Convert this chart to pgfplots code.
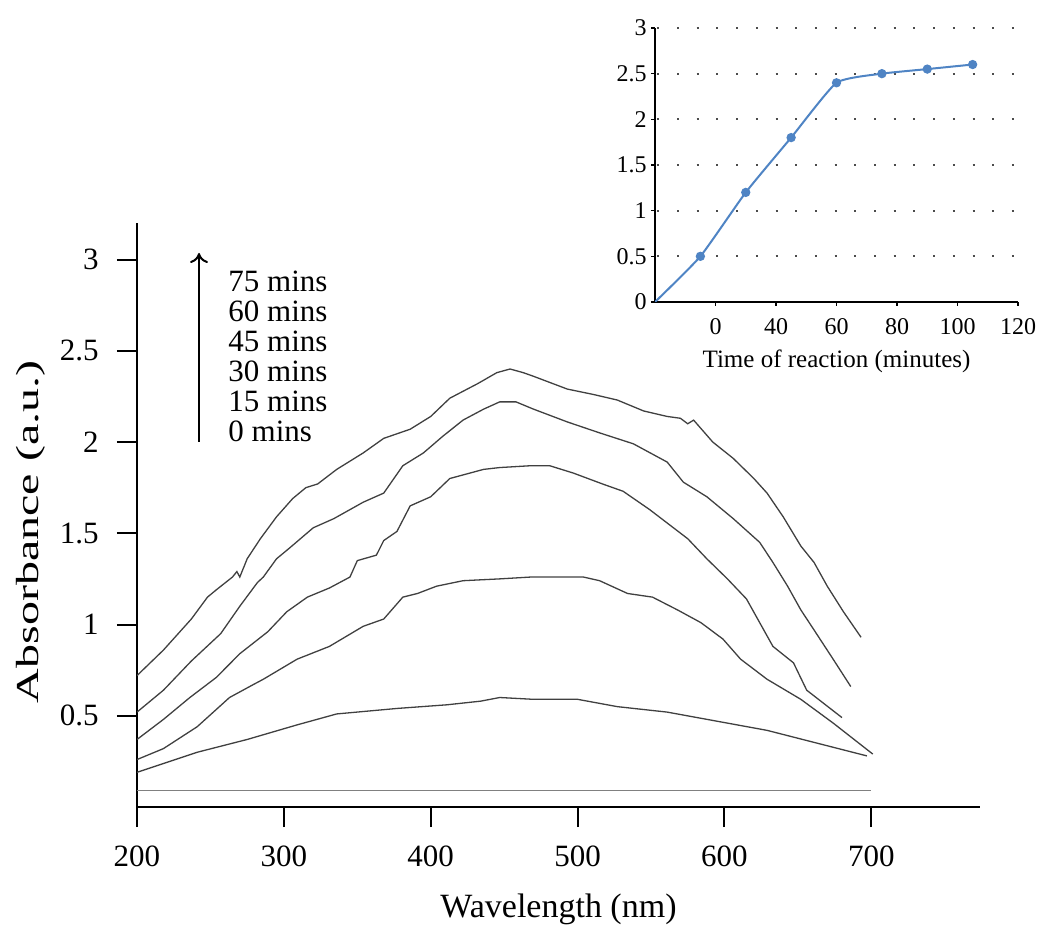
\documentclass[border=0pt]{standalone}
\usepackage{fontspec}
\setmainfont{Liberation Serif}
\usepackage{graphicx}
\usepackage{pgfplots}
\pgfplotsset{compat=1.18}
\usetikzlibrary{arrows.meta}
\definecolor{spec}{HTML}{404040}
\definecolor{kin}{HTML}{4F84C4}

\begin{document}
\begin{tikzpicture}[x=1pt,y=1pt]
\useasboundingbox (0,0) rectangle (521,463);
% main spectra
\begin{axis}[
  at={(68.5pt,59.5pt)}, anchor=south west,
  scale only axis, width=421.5pt, height=292pt,
  xmin=200, xmax=774, ymin=0, ymax=3.2,
  axis x line=bottom, axis y line=left,
  axis line style={-, line width=1pt},
  xtick={200,300,...,700}, ytick={0.5,1,...,3},
  tick align=outside, major tick length=10pt,
  tick style={line width=1pt, black},
  /pgf/number format/assume math mode=true,
  tick label style={font=\fontsize{15.5}{15.5}\selectfont, inner sep=0pt},
  xticklabel shift=9pt, yticklabel shift=9pt,
  xlabel={Wavelength (nm)},
  xlabel style={at={(axis description cs:0.5,0)}, anchor=base, yshift=-55pt,
    font=\fontsize{17}{17}\selectfont},
  ylabel={\scalebox{1.5}[1]{Absorbance (a.u.)}},
  ylabel style={at={(axis description cs:-0.1257,0.471)}, anchor=center,
    font=\fontsize{16}{16}\selectfont},
]
\addplot[gray, line width=0.5pt] coordinates {(200,0.093) (700,0.093)};
% 15 mins
\addplot[spec, line width=0.65pt] coordinates {
(200,0.19) (241,0.30) (275,0.37) (309,0.45) (336,0.51) (377,0.54) (411,0.56)
(434,0.58) (447,0.60) (470,0.59) (500,0.59) (527,0.55) (561,0.52) (595,0.47)
(629,0.42) (663,0.35) (697,0.28)};
% 30 mins
\addplot[spec, line width=0.65pt] coordinates {
(200,0.26) (218,0.32) (241,0.44) (263,0.60) (279,0.67) (286,0.70) (309,0.81)
(331,0.88) (354,0.99) (368,1.03) (381,1.15) (391,1.17) (404,1.21) (422,1.24)
(447,1.25) (468,1.26) (504,1.26) (515,1.24) (534,1.17) (551,1.15) (568,1.08)
(584,1.01) (599,0.92) (611,0.81) (629,0.70) (652,0.59) (674,0.46) (701,0.29)};
% 45 mins
\addplot[spec, line width=0.65pt] coordinates {
(200,0.37) (218,0.48) (236,0.60) (254,0.71) (270,0.84) (289,0.96) (302,1.07)
(316,1.15) (331,1.20) (345,1.26) (350,1.35) (363,1.38) (368,1.46) (377,1.51)
(386,1.65) (400,1.70) (413,1.80) (436,1.85) (447,1.86) (468,1.87) (481,1.87)
(497,1.83) (517,1.77) (531,1.73) (549,1.63) (575,1.47) (588,1.36) (602,1.25)
(615,1.14) (624,1.01) (633,0.88) (647,0.79) (656,0.64) (680,0.49)};
% 60 mins
\addplot[spec, line width=0.65pt] coordinates {
(200,0.52) (218,0.64) (237,0.80) (257,0.95) (270,1.10) (282,1.23) (286,1.26)
(295,1.36) (304,1.42) (320,1.53) (334,1.58) (354,1.67) (368,1.72) (381,1.87)
(395,1.94) (408,2.03) (422,2.12) (436,2.18) (447,2.22) (458,2.22) (470,2.18)
(493,2.11) (515,2.05) (538,1.99) (561,1.89) (572,1.78) (588,1.70) (606,1.58)
(624,1.45) (633,1.34) (643,1.21) (652,1.08) (661,0.97) (674,0.81) (686,0.66)};
% 75 mins
\addplot[spec, line width=0.65pt] coordinates {
(200,0.72) (218,0.86) (237,1.03) (248,1.15) (254,1.19) (265,1.26) (268,1.29)
(270,1.26) (273,1.32) (275,1.36) (284,1.47) (295,1.59) (306,1.69) (315,1.75)
(323,1.77) (336,1.85) (354,1.94) (368,2.02) (386,2.07) (400,2.14) (413,2.24)
(432,2.32) (445,2.38) (454,2.40) (463,2.38) (470,2.36) (493,2.29) (511,2.26)
(527,2.23) (545,2.17) (561,2.14) (570,2.13) (575,2.10) (579,2.12) (592,2.00)
(606,1.91) (620,1.80) (629,1.72) (640,1.59) (652,1.43) (661,1.34) (670,1.21)
(681,1.07) (693,0.93)};
\end{axis}

% inset: absorbance against reaction time
\begin{axis}[
  at={(327.5pt,312pt)}, anchor=south west,
  scale only axis, width=181.5pt, height=137pt,
  xmin=0, xmax=120, ymin=0, ymax=3,
  axis x line=bottom, axis y line=left,
  axis line style={-, line width=0.9pt},
  xtick={20,40,...,120}, xticklabels={0,40,60,80,100,120},
  ytick={0,0.5,...,3},
  ymajorgrids,
  grid style={dash pattern=on 1pt off 8.85pt, dash phase=8.7pt, line width=1pt, black!70},
  tick align=outside, major tick length=2pt,
  tick style={line width=0.8pt, black},
  /pgf/number format/assume math mode=true,
  tick label style={font=\fontsize{12}{12}\selectfont, inner sep=0pt},
  xticklabel shift=6pt, yticklabel shift=2pt,
  xlabel={Time of reaction (minutes)},
  xlabel style={at={(axis description cs:0.5,0)}, anchor=base, yshift=-33pt,
    font=\fontsize{12.5}{12.5}\selectfont},
]
\addplot[kin, line width=1pt, smooth, tension=0.3, mark=*, mark size=1.8pt,
  mark indices={2,3,4,5,6,7,8}] coordinates {
(0,0) (15,0.5) (30,1.2) (45,1.8) (60,2.4) (75,2.5) (90,2.55) (105,2.6)};
\end{axis}

\draw[line width=1pt, -{To[length=5pt,width=9pt]}] (99.5,242) -- (99.5,336.5);
\begin{scope}[every node/.style={anchor=base west, inner sep=0pt,
    font=\fontsize{15.5}{15.5}\selectfont}]
\node at (114,317) {75 mins};
\node at (114,302) {60 mins};
\node at (114,287) {45 mins};
\node at (114,272) {30 mins};
\node at (114,257) {15 mins};
\node at (114,242) {0 mins};
\end{scope}
\end{tikzpicture}
\end{document}
